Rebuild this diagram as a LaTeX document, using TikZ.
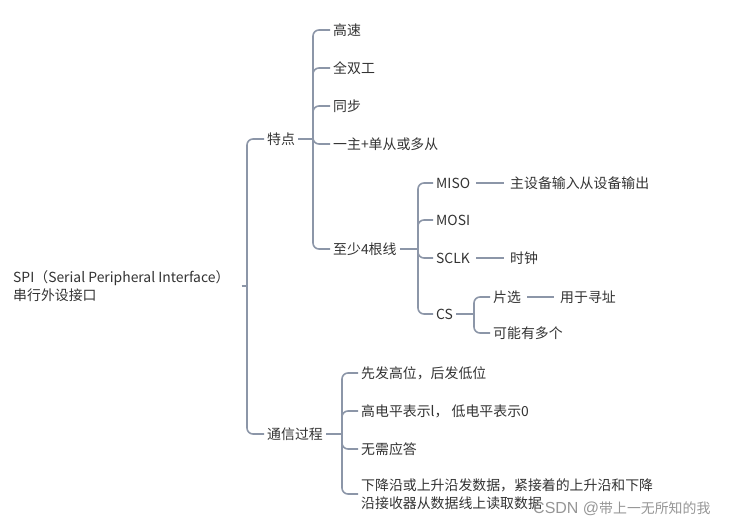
\documentclass[tikz,border=0pt]{standalone}
\usepackage{fontspec}
\setmainfont{Noto Sans CJK SC}
\newfontfamily\markfont{Liberation Sans}
\usepackage{tikz}
\usetikzlibrary{calc}
\definecolor{lineGray}{RGB}{140, 150, 168}
\definecolor{textGray}{RGB}{51, 51, 51}
\definecolor{markGray}{RGB}{150, 150, 150}

\tikzset{
  topic/.style={anchor=west, inner sep=3pt, text=textGray, align=left,
    font=\fontsize{13.9pt}{18pt}\selectfont},
  link/.style={draw=lineGray, line width=1.6pt, rounded corners=6pt},
}

\begin{document}
\begin{tikzpicture}[x=1pt, y=-1pt]
        \useasboundingbox (0,0) rectangle (737,527);
        % root and first level
        \node[topic] (root) at (10,286) {SPI（Serial Peripheral Interface）\\串行外设接口};
        \node[topic] (tedian) at (264,139) {特点};
        \node[topic] (tongxin) at (264,434) {通信过程};
        % features
        \node[topic] (gaosu) at (330,30) {高速};
        \node[topic] (quanshuang) at (330,68) {全双工};
        \node[topic] (tongbu) at (330,106) {同步};
        \node[topic] (yizhu) at (330,144) {一主+单从或多从};
        \node[topic] (genxian) at (330,249) {至少4根线};
        % lines
        \node[topic] (miso) at (433,183) {MISO};
        \node[topic] (mosi) at (433,220) {MOSI};
        \node[topic] (sclk) at (433,258) {SCLK};
        \node[topic] (cs) at (433,314) {CS};
        \node[topic] (misodesc) at (507,183) {主设备输入从设备输出};
        \node[topic] (shizhong) at (507,258) {时钟};
        \node[topic] (pianxuan) at (490,297) {片选};
        \node[topic] (duoge) at (490,333) {可能有多个};
        \node[topic] (xunzhi) at (557,297) {用于寻址};
        % communication
        \node[topic] (gaowei) at (358,373) {先发高位，后发低位};
        \node[topic] (dianping) at (358,411) {高电平表示l， 低电平表示0};
        \node[topic] (yingda) at (358,449) {无需应答};
        \node[topic] (yanshu) at (358,494) {下降沿或上升沿发数据，紧接着的上升沿和下降\\沿接收器从数据线上读取数据};
        % junctions
        \coordinate (root-j) at (247,286);
        \coordinate (tedian-j) at (313,139);
        \coordinate (genxian-j) at (418,249);
        \coordinate (cs-j) at (474,314);
        \coordinate (tongxin-j) at (342,434);
        % branches
        \draw[link, shorten <=9pt] (root.east) -- (root-j);
        \foreach \c in {tedian, tongxin}
          \draw[link] (root-j) |- (\c.west);
        \draw[link] (tedian.east) -- (tedian-j);
        \foreach \c in {gaosu, quanshuang, tongbu, yizhu, genxian}
          \draw[link] (tedian-j) |- (\c.west);
        \draw[link] (genxian.east) -- (genxian-j);
        \foreach \c in {miso, mosi, sclk, cs}
          \draw[link] (genxian-j) |- (\c.west);
        \draw[link] (cs.east) -- (cs-j);
        \foreach \c in {pianxuan, duoge}
          \draw[link] (cs-j) |- (\c.west);
        \draw[link] (tongxin.east) -- (tongxin-j);
        \foreach \c in {gaowei, dianping, yingda, yanshu}
          \draw[link] (tongxin-j) |- (\c.west);
        % leaf notes
        \draw[link, shorten <=3pt, shorten >=3pt] (miso.east) -- (misodesc.west);
        \draw[link, shorten <=3pt, shorten >=3pt] (sclk.east) -- (shizhong.west);
        \draw[link, shorten <=3pt, shorten >=3pt] (pianxuan.east) -- (xunzhi.west);
        % watermark
        \node[topic, text=markGray] (mark) at (530,509) {{\markfont\fontsize{16pt}{18pt}\selectfont CSDN @}带上一无所知的我};
\end{tikzpicture}
\end{document}
